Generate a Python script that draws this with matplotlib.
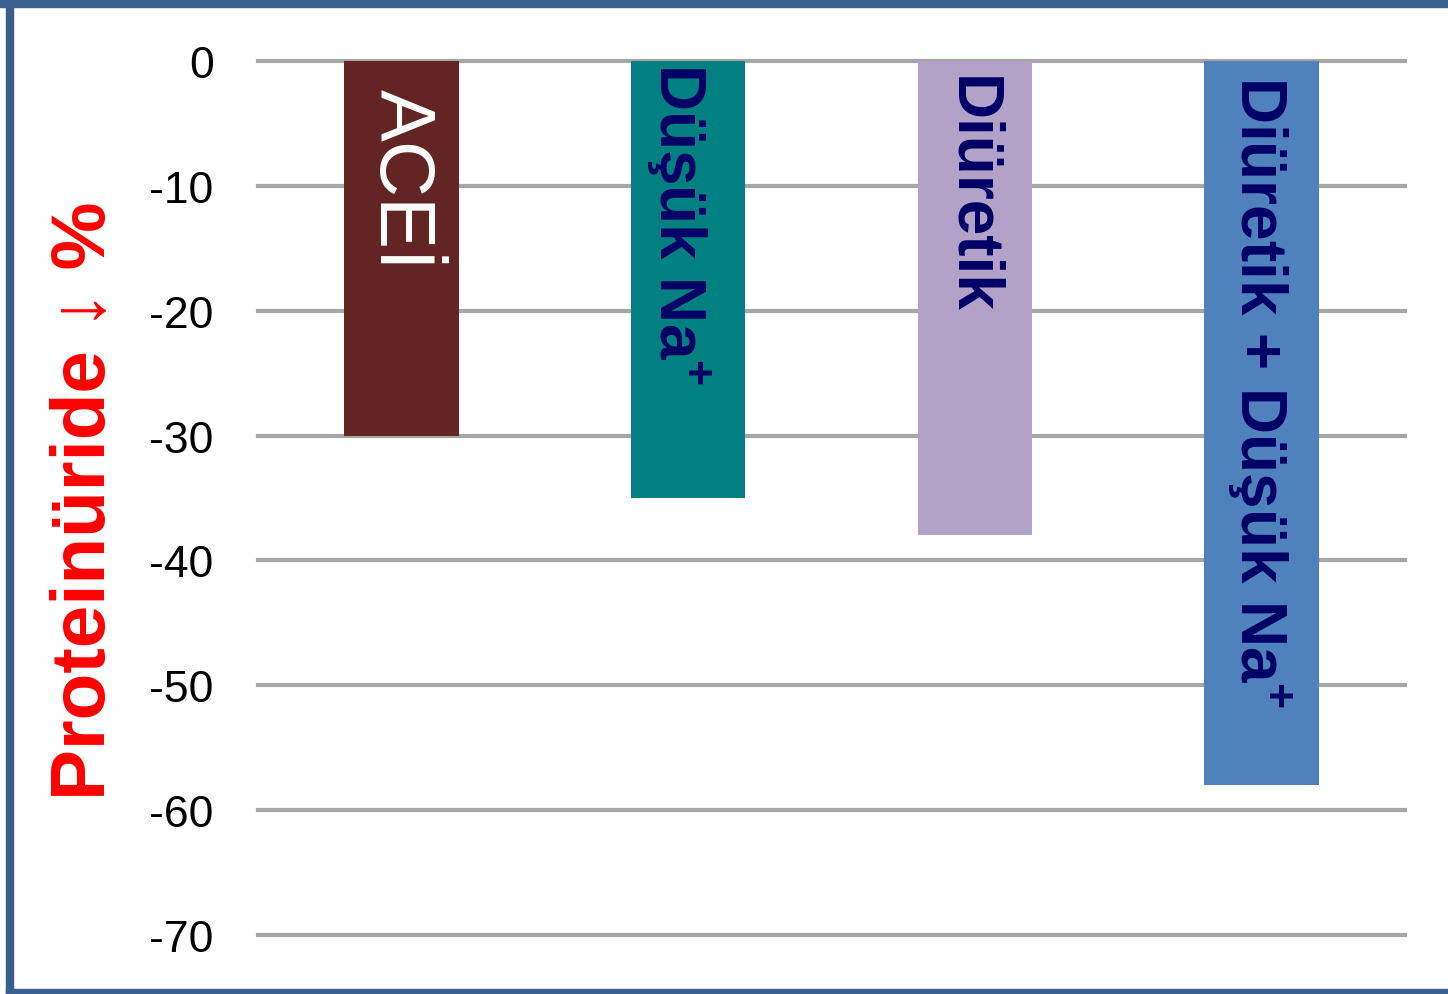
import matplotlib
matplotlib.use("Agg")
from matplotlib import pyplot as plt
from matplotlib.patches import Rectangle

plt.rcParams["mathtext.fontset"] = "custom"
plt.rcParams["mathtext.bf"] = "Liberation Sans:bold"
plt.rcParams["mathtext.rm"] = "Liberation Sans"

# chart data
categories = ["ACEİ", r"Düşük Na$^{\mathbf{+}}$", "Diüretik",
              r"Diüretik + Düşük Na$^{\mathbf{+}}$"]
values = [-30, -35, -38, -58]
bar_colors = ["#632523", "#008080", "#b2a2c7", "#4f81bd"]
label_colors = ["white", "#000066", "#000066", "#000066"]
y_ticks = [0, -10, -20, -30, -40, -50, -60, -70]

W, H = 1448, 995
fig = plt.figure(figsize=(W / 100, H / 100), dpi=100)
fig.patch.set_facecolor("white")

# axes placed to match the reference pixel layout
ax = fig.add_axes([258 / W, (H - 936) / H, (1405 - 258) / W, (936 - 62) / H])
x = list(range(len(categories)))
ax.bar(x, values, width=0.4, color=bar_colors, zorder=3)
ax.set_xlim(-0.5, 3.5)
ax.set_ylim(-70, 0)
ax.set_yticks(y_ticks)
ax.set_yticklabels([str(v) for v in y_ticks], fontsize=32, family="Liberation Sans")
ax.set_xticks([])
ax.tick_params(axis="y", length=0, pad=32)
for s in ax.spines.values():
    s.set_visible(False)
ax.yaxis.grid(True, color="#a6a6a6", linewidth=3, zorder=0)
for gl in ax.get_ygridlines():
    gl.set_clip_on(False)

# bar labels, rotated, reading top to bottom
tops = [-2.2, -0.1, -1.1, -1.1]
dx = [-0.005, -0.033, -0.012, -0.008]
for i, (xi, lab) in enumerate(zip(x, categories)):
    ax.text(xi + dx[i], tops[i], lab, rotation=-90, ha="center", va="top",
            fontsize=56 if i == 0 else 46,
            fontweight="normal" if i == 0 else "bold",
            color=label_colors[i], family="Liberation Sans", zorder=4)

fig.text(86 / W, 0.497, "Proteinüride ↓ %", rotation=90, ha="center", va="center",
         fontsize=55, fontweight="bold", color="#ff0000",
         family=["Liberation Sans", "DejaVu Sans"])

# blue frame (left, top, bottom)
frame = "#3a5f8f"
fig.patches.append(Rectangle((6 / W, 0), 7 / W, 1, transform=fig.transFigure,
                             color=frame, zorder=10))
fig.patches.append(Rectangle((0, 1 - 8 / H), 1, 8 / H, transform=fig.transFigure,
                             color=frame, zorder=10))
fig.patches.append(Rectangle((6 / W, 0), 1, 5 / H, transform=fig.transFigure,
                             color=frame, zorder=10))

fig.savefig("out.png", dpi=100)
